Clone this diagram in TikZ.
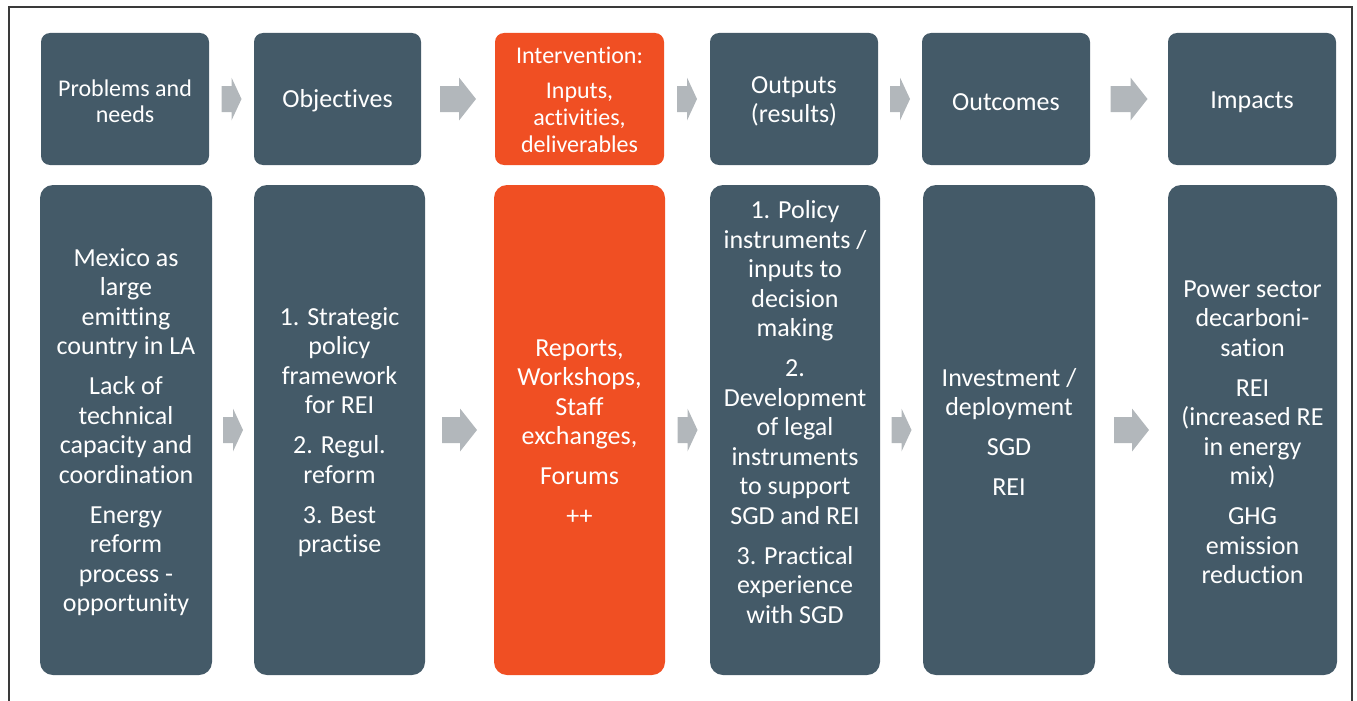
\documentclass[tikz,border=0pt]{standalone}
\usepackage{fontspec}
\setmainfont{Carlito}[Ligatures=NoCommon]
\usetikzlibrary{calc}
\definecolor{slate}{HTML}{445A68}
\definecolor{flame}{HTML}{F04F23}
\definecolor{arrowgray}{HTML}{B2B7BB}
\definecolor{framegray}{HTML}{3A3A3A}

% block arrow centred between two boxes: #1 from, #2 to, #3 length, #4 head length
\newcommand\flowarrow[4]{%
  \fill[arrowgray] ($(#1.east)!0.5!(#2.west)$) ++(-#3/2,-13) -- ++(#3-#4,0)
    -- ++(0,-8.5) -- ++(#4,21.5) -- ++(-#4,21.5) -- ++(0,-8.5)
    -- ++(-#3+#4,0) -- cycle;}

\begin{document}
\begin{tikzpicture}[x=1pt,y=-1pt,
  headbox/.style={fill=slate, rounded corners=9pt, inner sep=0pt, text=white,
    align=center, minimum height=132pt, font=\fontsize{26}{29}\selectfont},
  headtext/.style={text=white, align=center, inner sep=0pt, yshift=-2pt,
    font=\fontsize{26}{29}\selectfont},
  bodybox/.style={fill=slate, rounded corners=13pt, inner sep=0pt,
    minimum height=490pt},
  bodytext/.style={text=white, align=center, inner sep=0pt, yshift=-2pt,
    font=\fontsize{26}{29.5}\selectfont},
  hot/.style={fill=flame},
]
\useasboundingbox (0,0) rectangle (1357,701);

% outer frame (open at the bottom edge)
\draw[framegray, line width=1.2pt] (9,703) -- (9,7) -- (1352,7) -- (1352,703);

% header row
\node[headbox, minimum width=168pt] (h1) at (125,99) {};
\node[headbox, minimum width=167pt] (h2) at (337.5,99) {};
\node[headbox, hot, minimum width=169pt] (h3) at (579.5,99) {};
\node[headbox, minimum width=168pt] (h4) at (794,99) {};
\node[headbox, minimum width=168pt] (h5) at (1006,99) {};
\node[headbox, minimum width=168pt] (h6) at (1252,99) {};

\node[headtext, font=\fontsize{24}{26}\selectfont] (ht1) at (h1.center) {Problems and\\needs};
\node[headtext] (ht2) at (h2.center) {Objectives};
\node[headtext, yshift=1pt, font=\fontsize{24}{27}\selectfont] (ht3) at (h3.center)
  {Intervention:\\[8pt]Inputs,\\activities,\\deliverables};
\node[headtext] (ht4) at (h4.center) {Outputs\\(results)};
\node[headtext, yshift=-1pt] (ht5) at (h5.center) {Outcomes};
\node[headtext, yshift=-1pt] (ht6) at (h6.center) {Impacts};

% detail row
\node[bodybox, minimum width=172pt] (b1) at (126,430) {};
\node[bodybox, minimum width=171pt] (b2) at (339.5,430) {};
\node[bodybox, hot, minimum width=171pt] (b3) at (579.5,430) {};
\node[bodybox, minimum width=170pt] (b4) at (795,430) {};
\node[bodybox, minimum width=172pt] (b5) at (1009,430) {};
\node[bodybox, minimum width=169pt] (b6) at (1252.5,430) {};

\node[bodytext] (t1) at (b1.center)
  {Mexico as\\large\\emitting\\country in LA\\[10.5pt]Lack of\\technical\\capacity and\\coordination\\[10.5pt]Energy\\reform\\process -\\opportunity};
\node[bodytext] (t2) at (b2.center)
  {1. Strategic\\policy\\framework\\for REI\\[10.5pt]2. Regul.\\reform\\[10.5pt]3. Best\\practise};
\node[bodytext] (t3) at (b3.center)
  {Reports,\\Workshops,\\Staff\\exchanges,\\[10.5pt]Forums\\[10.5pt]++};
\node[bodytext] (t4) at ($(b4.center)+(0,-20)$)
  {1. Policy\\instruments /\\inputs to\\decision\\making\\[10.5pt]2.\\Development\\of legal\\instruments\\to support\\SGD and REI\\[10.5pt]3. Practical\\experience\\with SGD};
\node[bodytext] (t5) at (b5.center)
  {Investment /\\deployment\\[10.5pt]SGD\\[10.5pt]REI};
\node[bodytext] (t6) at (b6.center)
  {Power sector\\decarboni-\\sation\\[10.5pt]REI\\(increased RE\\in energy\\mix)\\[10.5pt]GHG\\emission\\reduction};

% arrows between stages
\flowarrow{h1}{h2}{20}{10}
\flowarrow{h2}{h3}{36}{17}
\flowarrow{h3}{h4}{20}{10}
\flowarrow{h4}{h5}{20}{10}
\flowarrow{h5}{h6}{37}{17}
\flowarrow{b1}{b2}{20}{10}
\flowarrow{b2}{b3}{35}{17}
\flowarrow{b3}{b4}{20}{10}
\flowarrow{b4}{b5}{20}{10}
\flowarrow{b5}{b6}{35}{17}
\end{tikzpicture}
\end{document}
